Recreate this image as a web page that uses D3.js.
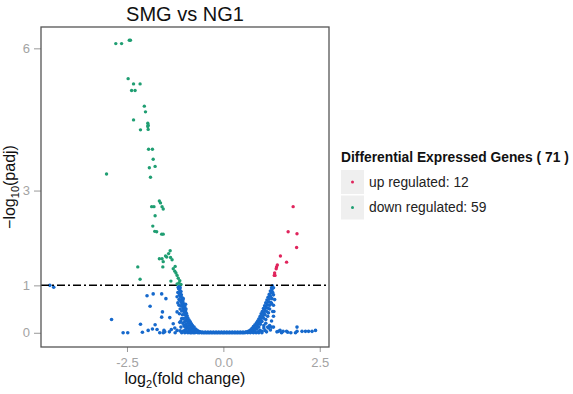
<!DOCTYPE html>
<html>
<head>
<meta charset="utf-8">
<script src="https://cdn.jsdelivr.net/npm/d3@7"></script>
<style>
  body { margin: 0; background: #fff; }
  text { font-family: "Liberation Sans", Arial, sans-serif; }
</style>
</head>
<body>
<script>
// ---------------------- DATA ----------------------

const titleText = "SMG vs NG1";
const xTicks = [-2.5, 0, 2.5];
const yTicks = [0, 1, 3, 6];
const threshold = 1;

// down regulated (log2FC, -log10 padj)
const downPoints = [
  [-2.79, 6.10], [-2.64, 6.10], [-2.44, 6.17], [-2.41, 6.17], [-2.47, 5.36],
  [-2.33, 5.25], [-2.16, 5.25], [-2.38, 5.11], [-2.29, 5.11], [-2.05, 4.78],
  [-2.02, 4.66], [-2.33, 4.49], [-2.15, 4.28], [-1.96, 4.42], [-1.96, 4.35],
  [-1.95, 4.29], [-1.95, 4.38], [-1.94, 3.87], [-1.84, 3.87], [-1.82, 3.66],
  [-1.92, 3.48], [-1.77, 3.51], [-3.03, 3.35], [-1.89, 3.28], [-1.86, 2.66],
  [-1.80, 2.66], [-1.66, 2.78], [-1.63, 2.74], [-1.59, 2.66], [-1.56, 2.61],
  [-1.77, 2.47], [-1.83, 2.25], [-1.78, 2.14], [-1.73, 2.13], [-1.60, 2.08],
  [-1.56, 2.08], [-1.38, 1.73], [-1.42, 1.67], [-1.47, 1.60], [-1.37, 1.59],
  [-1.33, 1.54], [-1.66, 1.56], [-1.59, 1.56], [-1.56, 1.50], [-1.57, 1.39],
  [-1.30, 1.35], [-1.26, 1.30], [-1.23, 1.26], [-1.20, 1.21], [-2.22, 1.39],
  [-2.16, 1.13], [-1.36, 1.09], [-1.17, 1.15], [-1.15, 1.05], [-1.20, 1.03],
  [-1.13, 1.10], [-1.50, 1.62], [-1.25, 1.40], [-1.10, 1.02]
];

// up regulated
const upPoints = [
  [1.81, 2.66], [1.68, 2.13], [1.91, 2.09], [1.90, 1.80], [1.48, 1.62],
  [1.64, 1.49], [1.38, 1.39], [1.37, 1.35], [1.34, 1.21], [1.32, 1.21],
  [1.40, 1.43], [1.33, 1.26]
];

// not significant: left arm of the V
const nsLeft = [
  [-1.14, 0.98], [-1.12, 0.95], [-1.13, 0.90], [-1.10, 0.87], [-1.12, 0.84],
  [-1.09, 0.80], [-1.11, 0.76], [-1.07, 0.74], [-1.08, 0.70], [-1.05, 0.67],
  [-1.09, 0.64], [-1.04, 0.62], [-1.06, 0.58], [-1.02, 0.56], [-1.05, 0.53],
  [-1.00, 0.51], [-1.03, 0.48], [-0.98, 0.46], [-1.01, 0.43], [-0.96, 0.41],
  [-0.99, 0.38], [-0.94, 0.36], [-0.97, 0.33], [-0.92, 0.31], [-0.95, 0.28],
  [-0.89, 0.27], [-0.93, 0.24], [-0.86, 0.23], [-0.90, 0.20], [-0.83, 0.19],
  [-0.87, 0.16], [-0.80, 0.15], [-0.84, 0.12], [-0.76, 0.12], [-0.80, 0.09],
  [-0.72, 0.08], [-0.76, 0.06], [-0.68, 0.05], [-0.72, 0.03], [-0.64, 0.03],
  [-0.68, 0.01], [-0.60, 0.015], [-0.62, 0.0], [-0.57, 0.005],
  [-0.85, 0.02], [-0.90, 0.04], [-0.95, 0.02], [-1.00, 0.05], [-1.05, 0.03],
  [-0.88, 0.08], [-0.94, 0.10], [-1.02, 0.15], [-1.08, 0.30], [-1.12, 0.50],
  [-1.15, 0.70], [-1.18, 0.85], [-0.82, 0.05], [-0.78, 0.02], [-0.74, 0.0],
  [-0.86, 0.0], [-0.92, 0.0], [-0.97, 0.07], [-1.10, 0.12], [-1.14, 0.40],
  [-1.16, 0.93], [-1.14, 0.80], [-1.12, 0.68], [-1.10, 0.57], [-1.08, 0.46],
  [-1.06, 0.38], [-1.03, 0.30], [-1.00, 0.24], [-0.97, 0.18], [-0.93, 0.14],
  [-0.90, 0.10], [-0.85, 0.07], [-0.80, 0.05], [-0.70, 0.02], [-0.66, 0.0],
  [-0.78, 0.0], [-0.83, 0.0], [-0.88, 0.02], [-1.00, 0.0], [-1.08, 0.0],
  [-1.12, 0.04], [-1.13, 0.22], [-1.18, 0.63], [-1.20, 0.76], [-0.98, 0.60],
  [-1.04, 0.72]
];

// not significant: right arm of the V
const nsRight = [
  [1.27, 0.99], [1.25, 0.95], [1.26, 0.91], [1.22, 0.88], [1.24, 0.84],
  [1.19, 0.81], [1.22, 0.77], [1.16, 0.75], [1.19, 0.71], [1.13, 0.69],
  [1.17, 0.65], [1.10, 0.63], [1.14, 0.59], [1.07, 0.57], [1.11, 0.53],
  [1.04, 0.51], [1.08, 0.47], [1.01, 0.45], [1.05, 0.41], [0.98, 0.40],
  [1.02, 0.36], [0.95, 0.34], [0.99, 0.31], [0.92, 0.29], [0.96, 0.26],
  [0.89, 0.25], [0.93, 0.22], [0.86, 0.21], [0.90, 0.18], [0.82, 0.17],
  [0.87, 0.14], [0.78, 0.13], [0.83, 0.10], [0.74, 0.09], [0.79, 0.07],
  [0.70, 0.06], [0.75, 0.04], [0.66, 0.035], [0.71, 0.02], [0.62, 0.02],
  [0.66, 0.01], [0.58, 0.01], [1.10, 0.20], [1.05, 0.10], [0.95, 0.05],
  [1.00, 0.03], [1.15, 0.35], [1.20, 0.50], [1.25, 0.62], [1.30, 0.80],
  [1.10, 0.28], [0.90, 0.02], [1.08, 0.05], [1.20, 0.15], [0.85, 0.0],
  [0.80, 0.03], [1.30, 0.58], [1.31, 0.45], [1.30, 0.35], [1.17, 0.42],
  [1.30, 0.95], [1.28, 0.85], [1.26, 0.72], [1.23, 0.64], [1.20, 0.58],
  [1.16, 0.52], [1.12, 0.45], [1.08, 0.38], [1.04, 0.31], [1.00, 0.24],
  [0.96, 0.18], [0.92, 0.12], [0.87, 0.08], [0.82, 0.06], [0.76, 0.02],
  [0.70, 0.0], [0.63, 0.0], [0.78, 0.0], [0.92, 0.0], [1.00, 0.0],
  [1.12, 0.02], [1.15, 0.12], [1.25, 0.25], [1.28, 0.45], [1.33, 0.70],
  [1.05, 0.15]
];

// not significant: values sitting on the floor (two rows)
const nsFloorX = [
  -0.56, -0.52, -0.49, -0.45, -0.42, -0.38, -0.35, -0.31, -0.28, -0.24,
  -0.21, -0.17, -0.14, -0.10, -0.07, -0.03, 0.00, 0.03, 0.07, 0.10,
  0.14, 0.17, 0.21, 0.24, 0.28, 0.31, 0.35, 0.38, 0.42, 0.45, 0.49, 0.52, 0.56
];
const nsFloorX2 = [
  -0.60, -0.54, -0.47, -0.40, -0.33, -0.26, -0.19, -0.12, -0.05, 0.02,
  0.09, 0.16, 0.23, 0.30, 0.37, 0.44, 0.51, 0.58
];

// not significant: scattered further out
const nsScatter = [
  [-4.50, 1.00], [-4.40, 0.96], [-2.90, 0.28], [-2.60, 0.0], [-2.48, 0.0],
  [-2.15, 0.18], [-2.10, 0.01], [-1.98, 0.78], [-1.82, 0.82], [-1.90, 0.56],
  [-1.60, 0.82], [-1.49, 0.72], [-1.58, 0.44], [-1.60, 0.33], [-1.77, 0.17],
  [-1.39, 0.32], [-1.30, 0.19], [-1.95, 0.05], [-1.84, 0.08], [-1.72, 0.07],
  [-1.56, 0.0], [-1.54, 0.05], [-1.52, 0.02], [-1.35, 0.07], [-1.26, 0.10],
  [-1.20, 0.05], [-1.17, 0.96], [-1.15, 0.58], [-1.00, 0.55], [-0.97, 0.50],
  [-1.20, 0.44], [-1.10, 0.25], [-1.05, 0.20], [-1.00, 0.13], [-1.25, 0.0],
  [-1.40, 0.02], [-1.65, 0.0],
  [1.30, 0.12], [1.25, 0.12], [1.47, 0.05], [1.55, 0.03], [1.64, 0.03],
  [1.91, 0.12], [1.91, 0.03], [2.04, 0.03], [2.13, 0.03], [2.21, 0.03],
  [2.30, 0.03], [2.39, 0.05], [1.39, 0.02], [1.43, 0.03], [1.17, 0.10],
  [1.22, 0.06], [1.87, 0.0], [1.75, 0.0], [1.67, 0.01], [1.51, 0.0]
];

const legendTitle = "Differential Expressed Genes ( 71 )";
const legendLabels = ["up regulated: 12", "down regulated: 59"];

const colors = { up: "#e0245c", down: "#1f9e72", ns: "#1669cc" };

// ---------------------- CHART ----------------------

const width = 573, height = 394;
const panel = { left: 41, right: 329, top: 27, bottom: 347 };

const svg = d3.select("body").append("svg")
  .attr("width", width)
  .attr("height", height);

svg.append("rect").attr("width", width).attr("height", height).attr("fill", "#fff");

const x = d3.scaleLinear().domain([-4.73, 2.74]).range([panel.left, panel.right]);
const y = d3.scaleLinear().domain([-0.30, 6.45]).range([panel.bottom, panel.top]);

// axes (grey ticks, grey labels)
const xAxis = svg.append("g")
  .attr("transform", `translate(0,${panel.bottom})`)
  .call(d3.axisBottom(x).tickValues(xTicks).tickSize(5).tickPadding(6));
const yAxis = svg.append("g")
  .attr("transform", `translate(${panel.left},0)`)
  .call(d3.axisLeft(y).tickValues(yTicks).tickFormat(d3.format("d")).tickSize(7).tickPadding(4));

[xAxis, yAxis].forEach(g => {
  g.select(".domain").remove();
  g.selectAll(".tick line").attr("stroke", "#999");
  g.selectAll(".tick text").attr("fill", "#a3a3a3").style("font-size", "13px")
    .style("font-family", "'Liberation Sans', Arial, sans-serif");
});
xAxis.selectAll(".tick text").text(d => d3.format(".1f")(d).replace("\u2212", "-"));

const plot = svg.append("g");

const ns = nsLeft.concat(nsRight, nsScatter,
  nsFloorX.map(v => [v, 0]), nsFloorX2.map(v => [v, 0.015]));

plot.selectAll(".ns").data(ns).enter().append("circle")
  .attr("class", "ns")
  .attr("cx", d => x(d[0])).attr("cy", d => y(d[1]))
  .attr("r", 1.8).attr("fill", colors.ns);

// threshold line
plot.append("line")
  .attr("x1", panel.left).attr("x2", panel.right)
  .attr("y1", y(threshold)).attr("y2", y(threshold))
  .attr("stroke", "#000").attr("stroke-width", 1.5)
  .attr("stroke-dasharray", "8,3,2,3");

plot.selectAll(".down").data(downPoints).enter().append("circle")
  .attr("class", "down")
  .attr("cx", d => x(d[0])).attr("cy", d => y(d[1]))
  .attr("r", 1.7).attr("fill", colors.down);

plot.selectAll(".up").data(upPoints).enter().append("circle")
  .attr("class", "up")
  .attr("cx", d => x(d[0])).attr("cy", d => y(d[1]))
  .attr("r", 1.7).attr("fill", colors.up);

// panel frame
svg.append("rect")
  .attr("x", panel.left).attr("y", panel.top)
  .attr("width", panel.right - panel.left).attr("height", panel.bottom - panel.top)
  .attr("fill", "none").attr("stroke", "#555").attr("stroke-width", 1.3);

// title
svg.append("text")
  .attr("x", (panel.left + panel.right) / 2).attr("y", 21)
  .attr("text-anchor", "middle").style("font-size", "20px").attr("fill", "#111")
  .text(titleText);

// x label
const xl = svg.append("text")
  .attr("x", (panel.left + panel.right) / 2).attr("y", 384)
  .attr("text-anchor", "middle").style("font-size", "16px").attr("fill", "#111");
xl.append("tspan").text("log");
xl.append("tspan").attr("dy", 4).style("font-size", "11px").text("2");
xl.append("tspan").attr("dy", -4).text("(fold change)");

// y label
const yl = svg.append("text")
  .attr("transform", `translate(15,${(panel.top + panel.bottom) / 2}) rotate(-90)`)
  .attr("text-anchor", "middle").style("font-size", "16px").attr("fill", "#111");
yl.append("tspan").text("\u2212log");
yl.append("tspan").attr("dy", 4).style("font-size", "11px").text("10");
yl.append("tspan").attr("dy", -4).text("(padj)");

// legend
const legend = svg.append("g");
legend.append("text")
  .attr("x", 341).attr("y", 162)
  .style("font-size", "13.8px").style("font-weight", "bold").attr("fill", "#111")
  .text(legendTitle);

const keyColors = [colors.up, colors.down];
legendLabels.forEach((label, i) => {
  const top = 170 + i * 25.5;
  legend.append("rect")
    .attr("x", 341).attr("y", top).attr("width", 23).attr("height", 24)
    .attr("fill", "#efefef");
  legend.append("circle")
    .attr("cx", 352.5).attr("cy", top + 12).attr("r", 1.5).attr("fill", keyColors[i]);
  legend.append("text")
    .attr("x", 369).attr("y", top + 16.5)
    .style("font-size", "13.8px").attr("fill", "#222")
    .text(label);
});
</script>
</body>
</html>
